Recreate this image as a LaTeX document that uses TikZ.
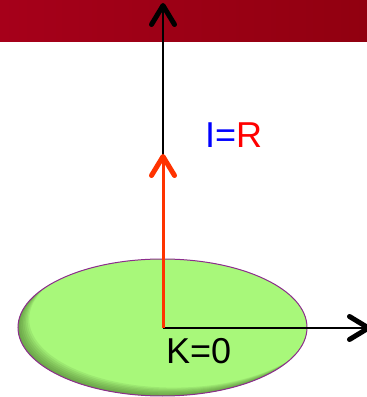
\documentclass[tikz,border=0pt]{standalone}
\usepackage{fontspec}
\setmainfont{Liberation Sans}
\usepackage{xcolor}
\usetikzlibrary{arrows.meta,positioning,calc}
\definecolor{barred}{RGB}{166,0,26}
\definecolor{bardark}{RGB}{145,0,16}
\definecolor{diskgreen}{RGB}{168,248,122}
\definecolor{diskshade}{RGB}{60,100,35}
\definecolor{diskrim}{RGB}{140,45,140}
\definecolor{vecred}{RGB}{255,51,0}
\definecolor{labelblue}{RGB}{0,0,255}
\definecolor{labelred}{RGB}{255,0,0}

\begin{document}
\begin{tikzpicture}[
        x=1pt, y=1pt,
        chevron/.style={-{Straight Barb[length=19pt, width=23pt, line width=5pt, round]}},
        axis/.style={chevron, line width=2pt, black},
        vector/.style={chevron, line width=3pt, vecred},
        label/.style={font=\fontsize{36}{40}\selectfont, inner sep=0pt, anchor=base west}
    ]
        \useasboundingbox (0,0) rectangle (367,397);
        % header band
        \shade[left color=barred, right color=bardark] (0,355.3) rectangle (367,397);

        % disk with inner shadow
        \fill[diskgreen] (162.5,69.5) ellipse [x radius=144.5, y radius=68.5];
        \begin{scope}
            \clip (162.5,69.5) ellipse [x radius=144.5, y radius=68.5];
            \foreach \d in {2,4,...,14}
                \fill[diskshade, opacity=0.1, even odd rule]
                    (-50,-50) rectangle (420,200)
                    ($(162.5,69.5)+(\d*0.8,\d*0.6)$) ellipse [x radius=144.5, y radius=68.5];
        \end{scope}
        \draw[diskrim, line width=1pt] (162.5,69.5) ellipse [x radius=144.5, y radius=68.5];

        \coordinate (O) at (163,69);
        \coordinate (ztip) at (163,394);
        \coordinate (xtip) at (371,69);
        \coordinate (rtip) at (163,243);

        \draw[axis] (O) -- (ztip);
        \draw[axis] (O) -- (xtip);
        \draw[vector] (O) -- (rtip);

        \node[label] (IR) at (205,249) {\textcolor{labelblue}{I=}\textcolor{labelred}{R}};
        \node[label] (K0) at (166,34) {K=0};
    \end{tikzpicture}
\end{document}
